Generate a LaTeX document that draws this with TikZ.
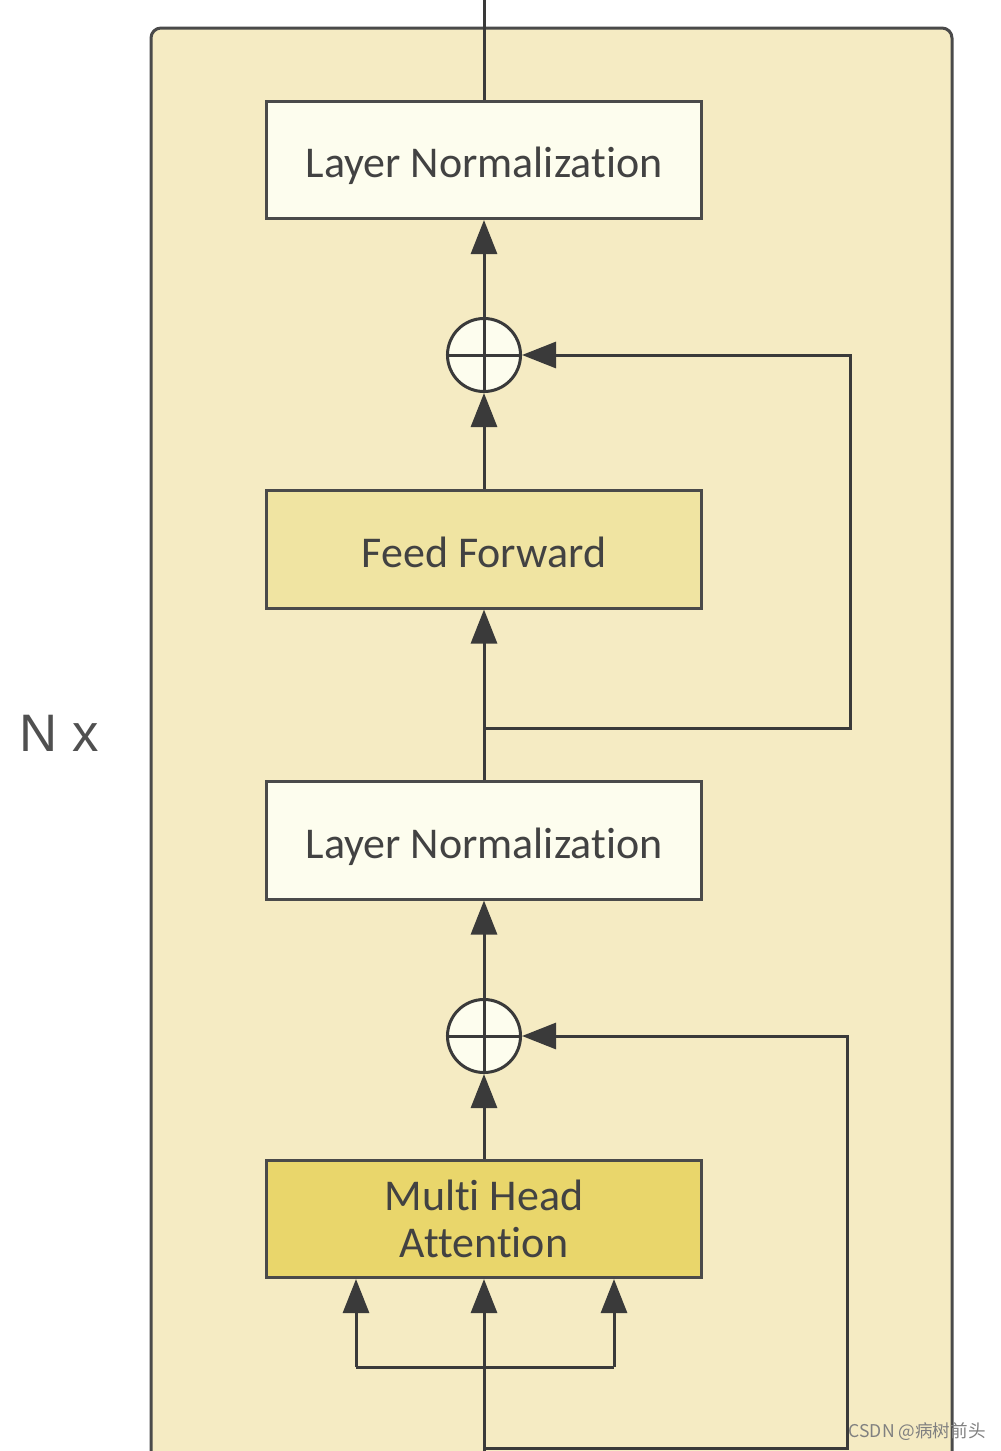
\documentclass[tikz,border=0pt]{standalone}
\usepackage{fontspec}
\setmainfont{Carlito}[Ligatures=NoCommon]
\newfontfamily\nxfont{Liberation Sans}
\newfontfamily\cjkfont{Noto Sans CJK SC}
\usetikzlibrary{arrows.meta}
\definecolor{outerfill}{HTML}{F5EBC3}
\definecolor{lnfill}{HTML}{FDFDEE}
\definecolor{fffill}{HTML}{F0E4A2}
\definecolor{mhafill}{HTML}{E9D66B}
\definecolor{strokec}{HTML}{4A4A4A}
\definecolor{linec}{HTML}{3A3A3A}
\definecolor{txtc}{HTML}{424242}
\definecolor{nxc}{HTML}{505050}
\tikzset{
  box/.style={draw=strokec, line width=0.03cm, minimum width=4.34cm, minimum height=1.17cm,
    inner sep=0pt, text=txtc, font=\fontsize{12.5}{13.5}\selectfont, align=center},
  oneline/.style={text height=11.2pt, text depth=1.2pt},
  lnbox/.style={box, oneline, fill=lnfill},
  ffbox/.style={box, oneline, fill=fffill},
  mhabox/.style={box, fill=mhafill},
  addc/.style={circle, draw=linec, line width=0.03cm, fill=lnfill, minimum size=0.73cm, inner sep=0pt},
  conn/.style={draw=linec, line width=0.03cm},
  arr/.style={conn, -{Triangle[length=0.34cm,width=0.26cm]}},
}
\begin{document}
\begin{tikzpicture}[x=0.01cm,y=-0.01cm]
\useasboundingbox (0,0) rectangle (1001,1451);
\fill[white] (0,0) rectangle (1001,1451);
\begin{scope}
\clip (0,0) rectangle (1001,1451);
\draw[draw=strokec, fill=outerfill, line width=0.03cm, rounded corners=0.1cm]
  (151,1490) -- (151,28) -- (952,28) -- (952,1490);

\node[lnbox] (ln1) at (484,160) {Layer Normalization};
\node[ffbox] (ff) at (484,549.5) {Feed Forward};
\node[lnbox] (ln2) at (484,840.5) {Layer Normalization};
\node[mhabox] (mha) at (484,1219) {Multi Head\\Attention};
\node[addc] (add1) at (484,355) {};
\node[addc] (add2) at (484,1036) {};
\draw[conn] (add1.north) -- (add1.south) (add1.west) -- (add1.east);
\draw[conn] (add2.north) -- (add2.south) (add2.west) -- (add2.east);

\coordinate (top) at (484,-5);
\coordinate (bot) at (484,1470);
\coordinate (br1) at (484,728);
\coordinate (r1b) at (850,728);
\coordinate (r1t) at (850,355);
\coordinate (bb) at (484,1448);
\coordinate (r2b) at (847,1448);
\coordinate (r2t) at (847,1036);
\coordinate (qL) at (356,1367);
\coordinate (qR) at (614,1367);

\draw[conn] (ln1.north) -- (top);
\draw[arr] (add1.north) -- (ln1.south);
\draw[arr] (ff.north) -- (add1.south);
\draw[arr] (br1) -- (r1b) -- (r1t) -- (add1.east);
\draw[arr] (ln2.north) -- (ff.south);
\draw[arr] (add2.north) -- (ln2.south);
\draw[arr] (mha.north) -- (add2.south);
\draw[arr] (bb) -- (r2b) -- (r2t) -- (add2.east);
\draw[arr] (bot) -- (mha.south);
\draw[conn] (qL) -- (qR);
\draw[arr] (qL) -- (qL |- mha.south);
\draw[arr] (qR) -- (qR |- mha.south);

\node[font=\nxfont\fontsize{15}{18}\selectfont, text=nxc] (nx) at (59,733) {N x};
\node[anchor=west, inner sep=0pt, font=\cjkfont\fontsize{5}{6}\selectfont, text=gray] (wm) at (848,1432) {CSDN @病树前头};
\end{scope}
\end{tikzpicture}
\end{document}
